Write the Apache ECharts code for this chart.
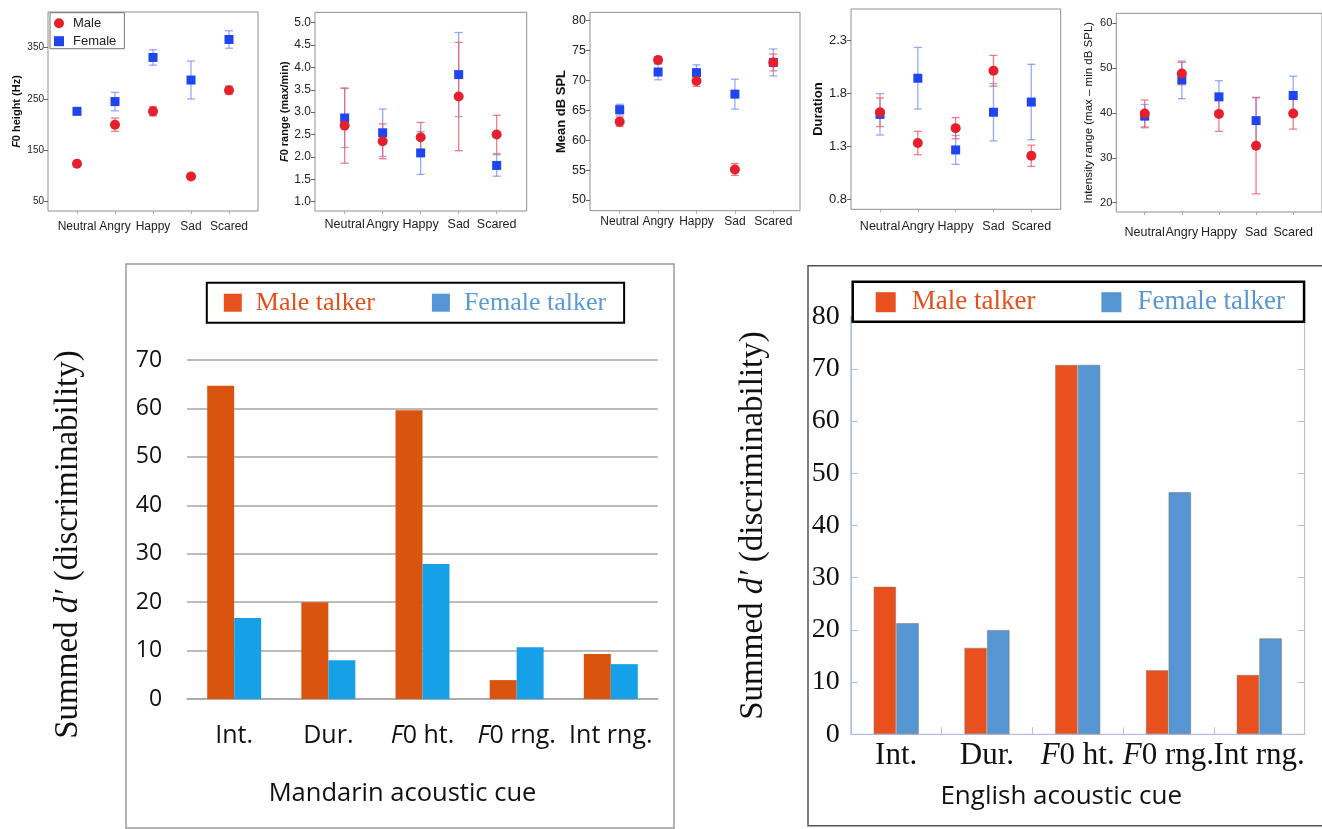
<!DOCTYPE html>
<html>
<head>
<meta charset="utf-8">
<script src="https://cdn.jsdelivr.net/npm/echarts@6/dist/echarts.min.js"></script>
<style>html,body{margin:0;padding:0;background:#fff}#c{width:1322px;height:829px}</style>
</head>
<body>
<div id="c"></div>
<script>
// ---------- DATA ----------
const emotions = ['Neutral', 'Angry', 'Happy', 'Sad', 'Scared'];

const f0HeightTicks = [50, 150, 250, 350];
const f0HeightMale = [124, 200, 226, 99, 267];
const f0HeightMaleErr = [5, 13, 9, 4, 8];
const f0HeightFemale = [226, 245, 331, 287, 366];
const f0HeightFemaleErr = [6, 18, 15, 37, 17];

const f0RangeTicks = [1.0, 1.5, 2.0, 2.5, 3.0, 3.5, 4.0, 4.5, 5.0];
const f0RangeMale = [2.70, 2.35, 2.44, 3.35, 2.50];
const f0RangeMaleErr = [0.84, 0.39, 0.33, 1.21, 0.43];
const f0RangeFemale = [2.87, 2.54, 2.09, 3.84, 1.81];
const f0RangeFemaleErr = [0.66, 0.53, 0.48, 0.94, 0.24];

const splTicks = [50, 55, 60, 65, 70, 75, 80];
const splMale = [63.1, 73.4, 69.9, 55.1, 73.0];
const splMaleErr = [0.8, 0.6, 0.9, 1.0, 1.4];
const splFemale = [65.1, 71.4, 71.3, 67.7, 73.0];
const splFemaleErr = [0.9, 1.3, 1.3, 2.5, 2.25];

const durationTicks = [0.8, 1.3, 1.8, 2.3];
const durationMale = [1.62, 1.33, 1.47, 2.01, 1.21];
const durationMaleErr = [0.135, 0.11, 0.10, 0.145, 0.10];
const durationFemale = [1.60, 1.94, 1.265, 1.62, 1.716];
const durationFemaleErr = [0.195, 0.29, 0.136, 0.27, 0.355];

const intRangeTicks = [20, 30, 40, 50, 60];
const intRangeMale = [39.9, 48.8, 39.8, 32.7, 39.9];
const intRangeMaleErr = [3.0, 2.5, 3.9, 10.7, 3.5];
const intRangeFemale = [39.3, 47.4, 43.6, 38.3, 43.9];
const intRangeFemaleErr = [2.6, 4.2, 3.6, 5.2, 4.3];

const cues = ['Int.', 'Dur.', 'F0 ht.', 'F0 rng.', 'Int rng.'];
const mandarinMale = [64.7, 20.0, 59.6, 3.9, 9.3];
const mandarinFemale = [16.7, 8.0, 27.9, 10.7, 7.2];
const englishMale = [28.3, 16.6, 70.8, 12.3, 11.4];
const englishFemale = [21.3, 20.0, 70.8, 46.4, 18.4];

// ---------- PANELS ----------
const panels = [
  {male: f0HeightMale, maleErr: f0HeightMaleErr, female: f0HeightFemale, femaleErr: f0HeightFemaleErr,
   ticks: f0HeightTicks, dec: 0, title: '{i|F}0 height (Hz)'},
  {male: f0RangeMale, maleErr: f0RangeMaleErr, female: f0RangeFemale, femaleErr: f0RangeFemaleErr,
   ticks: f0RangeTicks, dec: 1, title: '{i|F}0 range (max/min)'},
  {male: splMale, maleErr: splMaleErr, female: splFemale, femaleErr: splFemaleErr,
   ticks: splTicks, dec: 0, title: 'Mean dB SPL'},
  {male: durationMale, maleErr: durationMaleErr, female: durationFemale, femaleErr: durationFemaleErr,
   ticks: durationTicks, dec: 1, title: 'Duration'},
  {male: intRangeMale, maleErr: intRangeMaleErr, female: intRangeFemale, femaleErr: intRangeFemaleErr,
   ticks: intRangeTicks, dec: 0, title: 'Intensity range (max \u2013 min dB SPL)'}
];

const layouts = [
  {left: 48, top: 12, width: 210, height: 199, xMin: -0.763, xMax: 4.763, yMin: 31.9, yMax: 419.5,
   nameGap: 26, nameSize: 11, nameWeight: 'bold', ySize: 10, xSize: 12, xMargin: 10},
  {left: 315, top: 12.3, width: 211.7, height: 198.7, xMin: -0.78, xMax: 4.79, yMin: 0.792, yMax: 5.232,
   nameGap: 25, nameSize: 11, nameWeight: 'bold', ySize: 12, xSize: 12.5, xMargin: 7},
  {left: 590, top: 12.3, width: 210, height: 198.4, xMin: -0.773, xMax: 4.695, yMin: 48.2, yMax: 81.39,
   nameGap: 22, nameSize: 13, nameWeight: 'bold', ySize: 12.5, xSize: 12, xMargin: 5},
  {left: 851, top: 9, width: 209.7, height: 200.3, xMin: -0.767, xMax: 4.778, yMin: 0.706, yMax: 2.592,
   nameGap: 25, nameSize: 13, nameWeight: 'bold', ySize: 13, xSize: 12.5, xMargin: 11},
  {left: 1116.3, top: 13.3, width: 215, height: 198.7, xMin: -0.765, xMax: 4.776, yMin: 17.93, yMax: 62.23,
   nameGap: 21, nameSize: 11.5, nameWeight: 'normal', ySize: 11, xSize: 12.5, xMargin: 14}
];

const RED = '#e5202c', BLUE = '#1f45ee';
const RED_ERR = 'rgba(238,95,105,0.8)', BLUE_ERR = 'rgba(95,125,248,0.65)';
const SANS = 'Liberation Sans, Arial, sans-serif';
const SERIF = 'Liberation Serif, Times New Roman, serif';

function errRender(color) {
  return function (params, api) {
    const x = api.value(0), y = api.value(1), e = api.value(2);
    const p1 = api.coord([x, y + e]), p2 = api.coord([x, y - e]);
    const hw = 4;
    const style = {stroke: color, lineWidth: 1.3, fill: null};
    return {type: 'group', children: [
      {type: 'line', shape: {x1: p1[0], y1: p1[1], x2: p2[0], y2: p2[1]}, style: style},
      {type: 'line', shape: {x1: p1[0] - hw, y1: p1[1], x2: p1[0] + hw, y2: p1[1]}, style: style},
      {type: 'line', shape: {x1: p2[0] - hw, y1: p2[1], x2: p2[0] + hw, y2: p2[1]}, style: style}
    ]};
  };
}

const grid = [], xAxis = [], yAxis = [], series = [];
const idx = emotions.map((_, i) => i);

panels.forEach((p, k) => {
  const L = layouts[k];
  grid.push({left: L.left, top: L.top, width: L.width, height: L.height,
    show: true, borderColor: '#8e8e8e', borderWidth: 1, backgroundColor: 'transparent'});
  xAxis.push({type: 'value', gridIndex: k, min: L.xMin, max: L.xMax, position: 'bottom',
    axisLine: {show: false, onZero: false}, splitLine: {show: false},
    axisTick: {show: true, customValues: idx, length: 3, lineStyle: {color: '#aaa'}},
    axisLabel: {customValues: idx, formatter: v => emotions[Math.round(v)], fontFamily: SANS,
      fontSize: L.xSize, color: '#222', margin: L.xMargin, hideOverlap: false}});
  yAxis.push({type: 'value', gridIndex: k, min: L.yMin, max: L.yMax, position: 'left',
    axisLine: {show: false, onZero: false}, splitLine: {show: false},
    axisTick: {show: true, customValues: p.ticks, length: 4, lineStyle: {color: '#666'}},
    axisLabel: {customValues: p.ticks, formatter: v => Number(v).toFixed(p.dec), fontFamily: SANS,
      fontSize: L.ySize, color: '#222', margin: 4},
    name: p.title, nameLocation: 'middle', nameGap: L.nameGap,
    nameTextStyle: {fontFamily: SANS, fontSize: L.nameSize, fontWeight: L.nameWeight, color: '#111',
      rich: {i: {fontStyle: 'italic', fontFamily: SANS, fontSize: L.nameSize, fontWeight: L.nameWeight, color: '#111'}}}});
  series.push({type: 'custom', xAxisIndex: k, yAxisIndex: k, z: 1, silent: true,
    renderItem: errRender(BLUE_ERR), encode: {x: 0, y: 1},
    data: p.female.map((v, i) => [i, v, p.femaleErr[i]])});
  series.push({type: 'custom', xAxisIndex: k, yAxisIndex: k, z: 1, silent: true,
    renderItem: errRender(RED_ERR), encode: {x: 0, y: 1},
    data: p.male.map((v, i) => [i, v, p.maleErr[i]])});
  series.push({name: 'Female', type: 'scatter', xAxisIndex: k, yAxisIndex: k, z: 3,
    symbol: 'rect', symbolSize: 9, itemStyle: {color: BLUE, opacity: 1},
    data: p.female.map((v, i) => [i, v])});
  series.push({name: 'Male', type: 'scatter', xAxisIndex: k, yAxisIndex: k, z: 4,
    symbol: 'circle', symbolSize: 10, itemStyle: {color: RED, opacity: 1},
    data: p.male.map((v, i) => [i, v])});
});

const italicF = v => v.replace('F0', '{i|F}0');

// Mandarin (grid 5)
grid.push({left: 187.1, top: 360, width: 470.8, height: 339});
xAxis.push({type: 'category', gridIndex: 5, data: cues,
  axisLine: {show: true, lineStyle: {color: '#a6a6a6', width: 1.5}}, axisTick: {show: false},
  axisLabel: {interval: 0, hideOverlap: false, formatter: italicF, fontFamily: 'Open Sans', fontSize: 25, color: '#111', margin: 24,
    rich: {i: {fontStyle: 'italic', fontFamily: 'Open Sans', fontSize: 25, color: '#111'}}},
  name: 'Mandarin acoustic cue', nameLocation: 'middle', nameGap: 82,
  nameTextStyle: {fontFamily: 'Open Sans', fontSize: 25.5, color: '#111', padding: [0, 40, 0, 0]}});
yAxis.push({type: 'value', gridIndex: 5, min: 0, max: 70, interval: 10,
  axisLine: {show: false}, axisTick: {show: false},
  axisLabel: {fontFamily: 'Open Sans', fontSize: 23, color: '#111', margin: 25},
  splitLine: {show: true, lineStyle: {color: '#a6a6a6', width: 1.5}},
  name: 'Summed {i|d\u2032} (discriminability)', nameLocation: 'middle', nameGap: 102,
  nameTextStyle: {fontFamily: SERIF, fontSize: 33, color: '#111', padding: [0, 30, 0, 0],
    rich: {i: {fontStyle: 'italic', fontFamily: SERIF, fontSize: 33, color: '#111'}}}});

// English (grid 6)
const LAV = '#b5bce6';
grid.push({left: 850.8, top: 316.7, width: 453.8, height: 417.6, show: true, borderColor: LAV, borderWidth: 1});
xAxis.push({type: 'category', gridIndex: 6, data: cues,
  axisLine: {show: true, lineStyle: {color: LAV, width: 1}},
  axisTick: {show: true, inside: true, length: 7, lineStyle: {color: LAV}},
  axisLabel: {interval: 0, hideOverlap: false, formatter: italicF, fontFamily: SERIF, fontSize: 31, color: '#111', margin: 6,
    rich: {i: {fontStyle: 'italic', fontFamily: SERIF, fontSize: 31, color: '#111'}}},
  name: 'English acoustic cue', nameLocation: 'middle', nameGap: 49,
  nameTextStyle: {fontFamily: 'Open Sans', fontSize: 26, color: '#111', padding: [0, 33, 0, 0]}});
yAxis.push({type: 'value', gridIndex: 6, min: 0, max: 80, interval: 10,
  axisLine: {show: true, lineStyle: {color: LAV, width: 1}},
  axisTick: {show: true, inside: true, length: 7, lineStyle: {color: LAV}},
  axisLabel: {fontFamily: SERIF, fontSize: 28, color: '#111', margin: 11},
  splitLine: {show: false},
  name: 'Summed {i|d\u2032} (discriminability)', nameLocation: 'middle', nameGap: 81,
  nameTextStyle: {fontFamily: SERIF, fontSize: 33, color: '#111',
    rich: {i: {fontStyle: 'italic', fontFamily: SERIF, fontSize: 33, color: '#111'}}}});
yAxis.push({type: 'value', gridIndex: 6, min: 0, max: 80, interval: 10, position: 'right',
  axisLine: {show: true, lineStyle: {color: LAV, width: 1}},
  axisTick: {show: true, inside: true, length: 7, lineStyle: {color: LAV}},
  axisLabel: {show: false}, splitLine: {show: false}});

series.push({name: 'Male talker', type: 'bar', xAxisIndex: 5, yAxisIndex: 5, data: mandarinMale,
  barGap: '0%', barCategoryGap: '42.7%', itemStyle: {color: '#d9540f'}});
series.push({name: 'Female talker', type: 'bar', xAxisIndex: 5, yAxisIndex: 5, data: mandarinFemale,
  barGap: '0%', barCategoryGap: '42.7%', itemStyle: {color: '#16a0e8'}});
series.push({name: 'Male talker', type: 'bar', xAxisIndex: 6, yAxisIndex: 6, data: englishMale,
  barGap: '0%', barCategoryGap: '50%',
  itemStyle: {color: '#e8501e', borderColor: 'rgba(120,120,120,0.45)', borderWidth: 1}});
series.push({name: 'Female talker', type: 'bar', xAxisIndex: 6, yAxisIndex: 6, data: englishFemale,
  barGap: '0%', barCategoryGap: '50%',
  itemStyle: {color: '#5596d3', borderColor: 'rgba(120,120,120,0.6)', borderWidth: 1}});

const legend = [
  {left: 50, top: 12.7, orient: 'vertical', selectedMode: false,
   data: [{name: 'Male', icon: 'circle'}, {name: 'Female', icon: 'rect'}],
   itemWidth: 10, itemHeight: 10, itemGap: 5, padding: [4, 8, 1, 4],
   borderColor: '#777', borderWidth: 1, backgroundColor: '#fff',
   textStyle: {fontFamily: SANS, fontSize: 13, color: '#222', padding: [0, 0, 0, 4]}},
  {left: 206.8, top: 282.7, selectedMode: false, icon: 'rect',
   data: [{name: 'Male talker', itemStyle: {color: '#e8501e'}, textStyle: {color: '#e0501c'}},
          {name: 'Female talker', itemStyle: {color: '#5596d6'}, textStyle: {color: '#5a9ad6'}}],
   itemWidth: 18, itemHeight: 18, itemGap: 57, padding: [7, 18, 7, 17],
   borderColor: '#000', borderWidth: 2, backgroundColor: '#fff',
   textStyle: {fontFamily: SERIF, fontSize: 26, padding: [0, 0, 0, 9]}},
  {left: 852.7, top: 281.7, selectedMode: false, icon: 'rect',
   data: [{name: 'Male talker', itemStyle: {color: '#e8501e'}, textStyle: {color: '#e5501c'}},
          {name: 'Female talker', itemStyle: {color: '#5596d3'}, textStyle: {color: '#5a96d2'}}],
   itemWidth: 20, itemHeight: 20, itemGap: 66, padding: [7, 19, 6, 23],
   borderColor: '#000', borderWidth: 2.5, backgroundColor: '#fff',
   textStyle: {fontFamily: SERIF, fontSize: 27, padding: [0, 0, 0, 11]}}
];

const chart = echarts.init(document.getElementById('c'), null, {renderer: 'canvas'});
chart.setOption({
  animation: false,
  backgroundColor: '#fff',
  grid: grid, xAxis: xAxis, yAxis: yAxis, series: series, legend: legend,
  graphic: [
    {type: 'rect', silent: true, z: -10, shape: {x: 126, y: 264, width: 548, height: 564},
     style: {fill: null, stroke: '#9a9a9a', lineWidth: 1.5}},
    {type: 'rect', silent: true, z: -10, shape: {x: 808, y: 265.7, width: 540, height: 560},
     style: {fill: null, stroke: '#555', lineWidth: 1.5}}
  ]
});
</script>
</body>
</html>
